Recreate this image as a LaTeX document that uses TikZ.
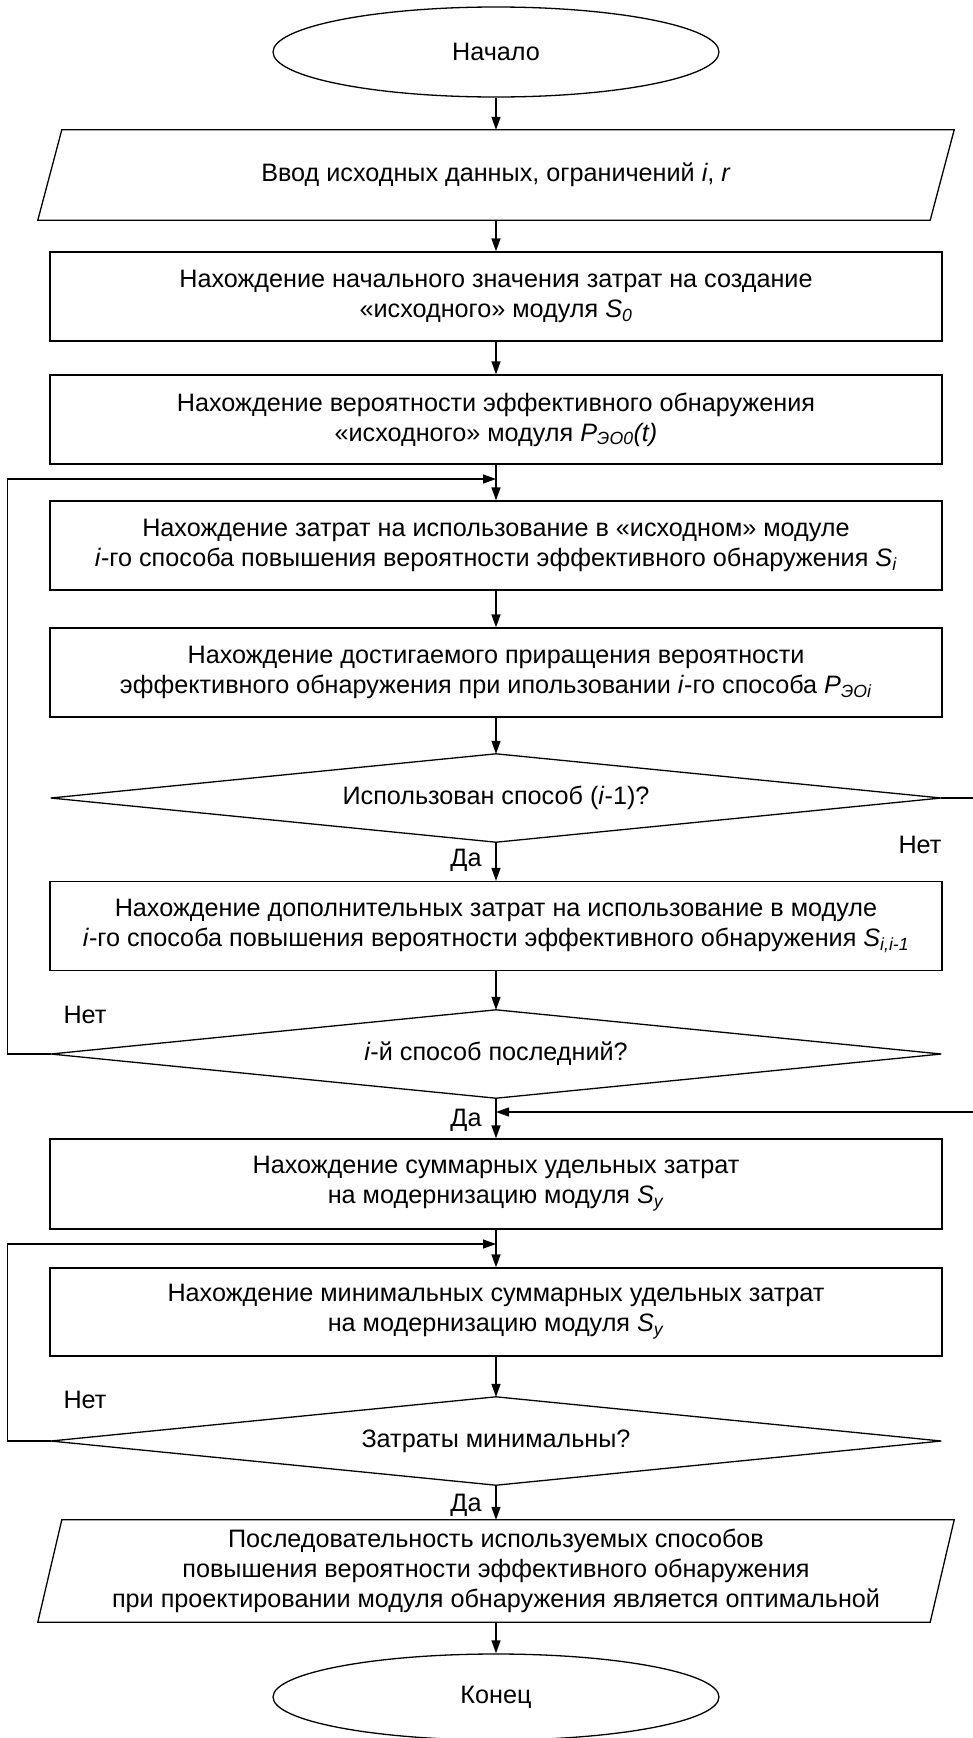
\documentclass[tikz,border=0pt]{standalone}
\usepackage{fontspec}
\setmainfont{Liberation Sans}
\usetikzlibrary{shapes.geometric,arrows.meta}

\newcommand\blockfont{\fontsize{25.2}{30}\selectfont}

\tikzset{
  lw/.style={line width=1.3pt},
  flow/.style={lw, -{Triangle[length=13pt,width=9pt]}},
  proc/.style={draw, lw, minimum width=892pt, minimum height=89pt,
    align=center, font=\blockfont, inner sep=0pt},
  iobox/.style={minimum width=892pt, align=center, font=\blockfont, inner sep=0pt},
  decis/.style={minimum width=890pt, minimum height=88pt, align=center,
    font=\blockfont, inner sep=0pt},
  term/.style={draw, lw, ellipse, minimum width=446pt, align=center,
    font=\blockfont, inner sep=0pt},
  lbl/.style={font=\blockfont, inner sep=0pt},
}

\begin{document}
\begin{tikzpicture}[x=1pt,y=-1pt]
\useasboundingbox (0,0) rectangle (973,1738);

% terminals, blocks and decisions
\node[term, minimum height=90pt] (start) at (496,52) {Начало};

\node[iobox, minimum height=90pt] (in) at (496,175)
  {Ввод исходных данных, ограничений \textit{i}, \textit{r}};
\draw[lw] ([xshift=12pt]in.north west) -- ([xshift=12pt]in.north east)
  -- ([xshift=-12pt]in.south east) -- ([xshift=-12pt]in.south west) -- cycle;

\node[proc] (b1) at (496,296.5)
  {Нахождение начального значения затрат на создание\\
   «исходного» модуля \textit{S}\textsubscript{\textit{0}}};
\node[proc] (b2) at (496,419.5)
  {Нахождение вероятности эффективного обнаружения\\
   «исходного» модуля \textit{P}\textsubscript{\textit{ЭО0}}\textit{(t)}};
\node[proc] (b3) at (496,545.5)
  {Нахождение затрат на использование в «исходном» модуле\\
   \textit{i}-го способа повышения вероятности эффективного обнаружения \textit{S}\textsubscript{\textit{i}}};
\node[proc] (b4) at (496,672.5)
  {Нахождение достигаемого приращения вероятности\\
   эффективного обнаружения при ипользовании \textit{i}-го способа \textit{P}\textsubscript{\textit{ЭОi}}};

\node[decis] (d1) at (496,798) {Использован способ (\textit{i}-1)?};
\draw[lw] (d1.north) -- (d1.east) -- (d1.south) -- (d1.west) -- cycle;

\node[proc] (b5) at (496,926)
  {Нахождение дополнительных затрат на использование в модуле\\
   \textit{i}-го способа повышения вероятности эффективного обнаружения \textit{S}\textsubscript{\textit{i,i-1}}};

\node[decis] (d2) at (496,1054) {\textit{i}-й способ последний?};
\draw[lw] (d2.north) -- (d2.east) -- (d2.south) -- (d2.west) -- cycle;

\node[proc, minimum height=90pt] (b6) at (496,1184)
  {Нахождение суммарных удельных затрат\\
   на модернизацию модуля \textit{S}\textsubscript{\textit{у}}};
\node[proc, minimum height=88pt] (b7) at (496,1312)
  {Нахождение минимальных суммарных удельных затрат\\
   на модернизацию модуля \textit{S}\textsubscript{\textit{у}}};

\node[decis] (d3) at (496,1441) {Затраты минимальны?};
\draw[lw] (d3.north) -- (d3.east) -- (d3.south) -- (d3.west) -- cycle;

\node[iobox, minimum height=102pt] (out) at (496,1571)
  {Последовательность используемых способов\\
   повышения вероятности эффективного обнаружения\\
   при проектировании модуля обнаружения является оптимальной};
\draw[lw] ([xshift=12pt]out.north west) -- ([xshift=12pt]out.north east)
  -- ([xshift=-12pt]out.south east) -- ([xshift=-12pt]out.south west) -- cycle;

\node[term, minimum height=86pt] (end) at (496,1697) {Конец};

% branch labels
\node[lbl] (yes1) at (466,860) {Да};
\node[lbl] (no1) at (920,845) {Нет};
\node[lbl] (no2) at (85,1015) {Нет};
\node[lbl] (yes2) at (466,1120) {Да};
\node[lbl] (no3) at (85,1400) {Нет};
\node[lbl] (yes3) at (466,1505) {Да};

% junction points on the main line
\coordinate (j1) at (496,479);
\coordinate (j2) at (496,1112);
\coordinate (j3) at (496,1244);

% main flow
\draw[flow] (start) -- (in.north);
\draw[flow] (in.south) -- (b1);
\draw[flow] (b1) -- (b2);
\draw[flow] (b2) -- (b3);
\draw[flow] (b3) -- (b4);
\draw[flow] (b4) -- (d1.north);
\draw[flow] (d1.south) -- (b5);
\draw[flow] (b5) -- (d2.north);
\draw[flow] (d2.south) -- (b6);
\draw[flow] (b6) -- (b7);
\draw[flow] (b7) -- (d3.north);
\draw[flow] (d3.south) -- (out.north);
\draw[flow] (out.south) -- (end);

% loops and bypass
\draw[flow] (d2.west) -- ++(-43,0) |- (j1);
\draw[flow] (d1.east) -- ++(36,0) |- (j2);
\draw[flow] (d3.west) -- ++(-43,0) |- (j3);
\end{tikzpicture}
\end{document}
